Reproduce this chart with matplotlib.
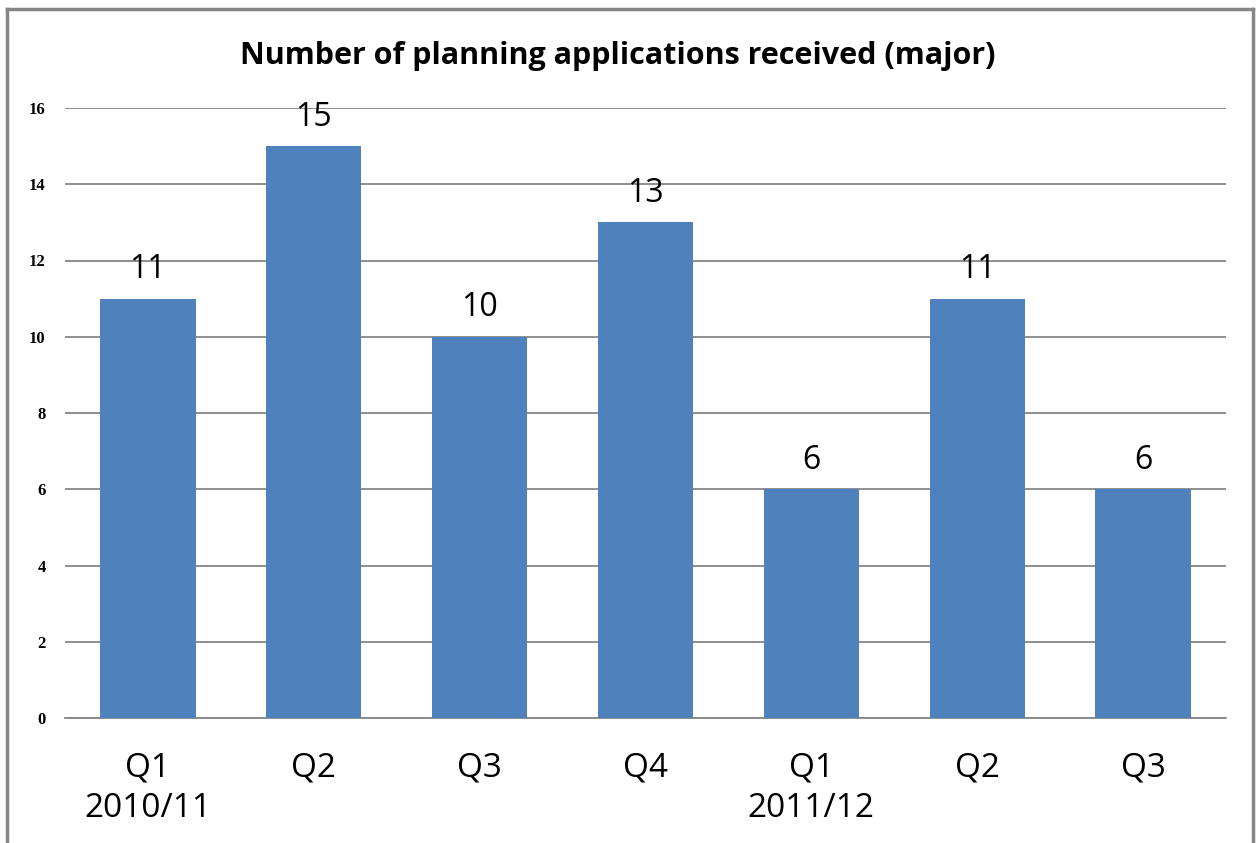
import matplotlib
matplotlib.use("Agg")
import matplotlib.pyplot as plt
from matplotlib.lines import Line2D

quarters = ["Q1\n2010/11", "Q2", "Q3", "Q4", "Q1\n2011/12", "Q2", "Q3"]
received = [11, 15, 10, 13, 6, 11, 6]
yticks = [0, 2, 4, 6, 8, 10, 12, 14, 16]

W, H = 1256, 843
fig = plt.figure(figsize=(W / 100, H / 100), dpi=100)
ax = fig.add_axes([65 / W, 1 - 718 / H, (1226 - 65) / W, (718 - 108) / H])

x = range(len(received))
bars = ax.bar(x, received, width=0.575, color="#4F81BD", zorder=3)

ax.set_xlim(-0.5, len(received) - 0.5)
ax.set_ylim(0, 16)
ax.set_yticks(yticks)
ax.set_yticklabels([str(t) for t in yticks], fontfamily="Liberation Serif",
                   fontweight="bold", fontsize=12)
ax.set_xticks(list(x))
ax.set_xticklabels(quarters, fontfamily="Open Sans", fontsize=24, linespacing=1.3)
ax.tick_params(axis="y", length=0, pad=14)
ax.tick_params(axis="x", length=0, pad=24)
ax.grid(axis="y", color="#868686", linewidth=1.3, zorder=0)
for s in ["top", "right", "left"]:
    ax.spines[s].set_visible(False)
ax.spines["bottom"].set_color("#868686")
ax.spines["bottom"].set_linewidth(1.3)

for b, v in zip(bars, received):
    ax.annotate(str(v), (b.get_x() + b.get_width() / 2, v), xytext=(0, 9),
                textcoords="offset points", ha="center", va="bottom",
                fontfamily="Open Sans", fontsize=23)

fig.text(618 / W, 1 - 56 / H, "Number of planning applications received (major)",
         ha="center", va="center", fontfamily="Open Sans", fontweight="bold", fontsize=22)

# chart frame (open at bottom)
bx0, bx1, by0 = 7 / W, 1253 / W, 1 - 9 / H
for xs, ys in [([bx0, bx0], [0, by0]), ([bx0, bx1], [by0, by0]), ([bx1, bx1], [by0, 0])]:
    fig.add_artist(Line2D(xs, ys, color="#868686", linewidth=2.5, transform=fig.transFigure))

fig.savefig("out.png", dpi=100)
